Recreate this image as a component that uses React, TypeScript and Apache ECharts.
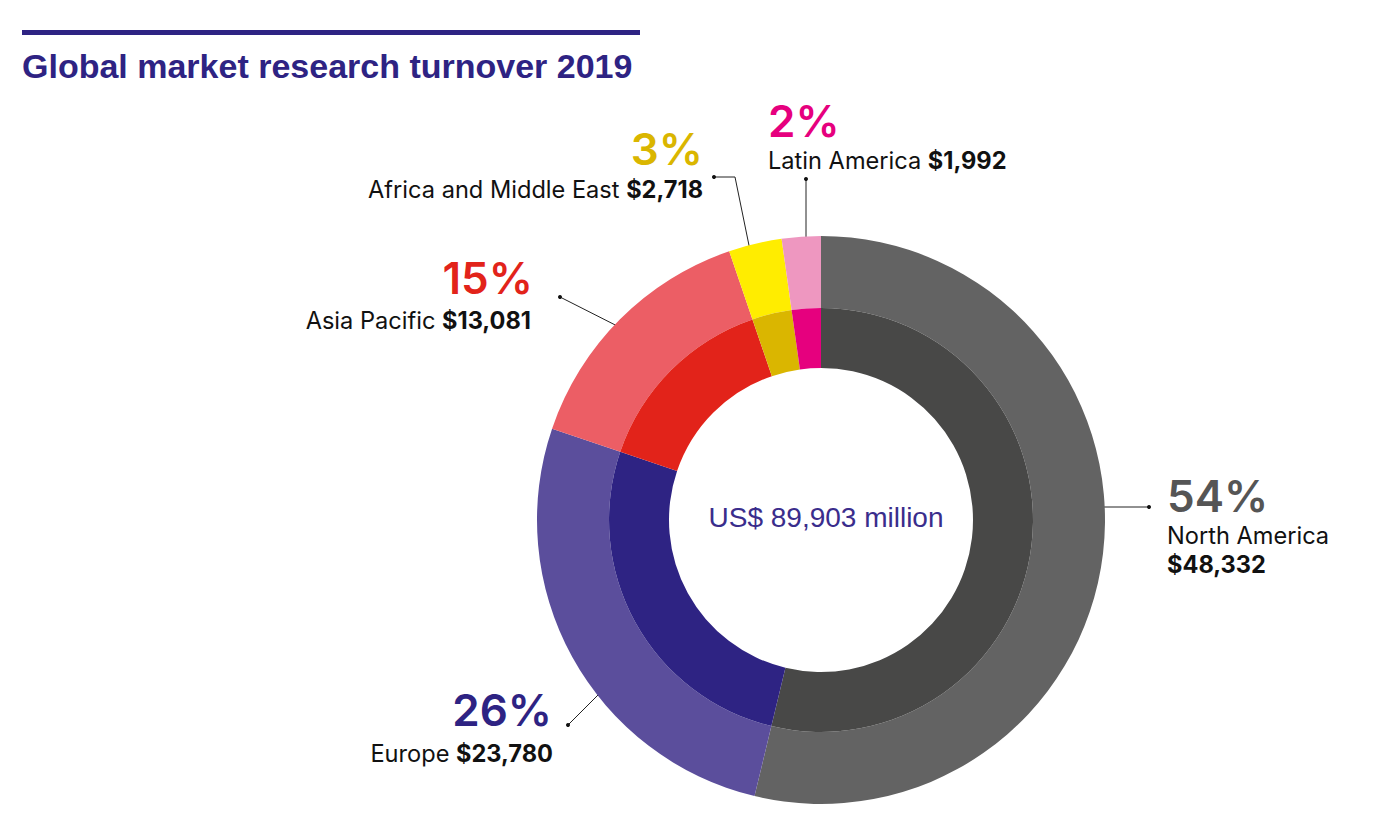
import React, { useEffect, useRef } from "react";
import * as echarts from "echarts";

const regions = ["North America", "Europe", "Asia Pacific", "Africa and Middle East", "Latin America"];
const turnover = [48332, 23780, 13081, 2718, 1992];
const outerColors = ["#636363", "#5b4e9c", "#ec5e65", "#ffed00", "#ee97c0"];
const innerColors = ["#484847", "#2e2383", "#e2231a", "#dab600", "#e6007e"];
const pctColors = ["#555555", "#2e2383", "#e2231a", "#dab600", "#e6007e"];
const titleText = "Global market research turnover 2019";

// annotation layout (positions only)
const layout = [
  { pct: [1167, 496], align: "left", name: [1167, 535], value: [1167, 564], stacked: true, line: [[1080, 507], [1149, 507]] },
  { pct: [552, 710], align: "right", name: [553, 753], stacked: false, line: [[612, 681], [568, 725]] },
  { pct: [533, 278], align: "right", name: [531, 320], stacked: false, line: [[635, 335], [560, 297]] },
  { pct: [703, 149], align: "right", name: [703, 189], stacked: false, line: [[752, 260], [735, 177], [714, 177]] },
  { pct: [768, 121], align: "left", name: [768, 160], stacked: false, line: [[806, 256], [806, 179]] },
];

const LABEL_FONT = "Inter, 'Liberation Sans', sans-serif";
const LABEL_SIZE = 23.6;

export default function App() {
  const ref = useRef<HTMLDivElement>(null);
  useEffect(() => {
    if (!ref.current) return;
    const chart = echarts.init(ref.current, null, { renderer: "svg" });
    const total = turnover.reduce((a, b) => a + b, 0);
    const fmt = (v: number) => v.toLocaleString("en-US");

    const graphics: any[] = [
      { type: "rect", shape: { x: 22, y: 30, width: 618, height: 5 }, style: { fill: "#2e2383" } },
      {
        type: "text", x: 22, y: 66,
        style: { text: titleText, fontFamily: "'Liberation Sans', Arial, sans-serif", fontWeight: "bold", fontSize: 34, fill: "#2e2383", align: "left", verticalAlign: "middle" },
      },
      {
        type: "text", x: 826, y: 517,
        style: { text: `US$ ${fmt(total)} million`, fontFamily: "'Liberation Sans', Arial, sans-serif", fontSize: 28, fill: "#3a2d8c", align: "center", verticalAlign: "middle" },
      },
    ];

    regions.forEach((name, i) => {
      const L = layout[i];
      const v = turnover[i];
      const pct = Math.round((v / total) * 100) + "%";
      graphics.push({
        type: "text", x: L.pct[0], y: L.pct[1],
        style: { text: pct, fontFamily: LABEL_FONT, fontWeight: 600, fontSize: 44, lineHeight: 34, fill: pctColors[i], align: L.align, verticalAlign: "middle" },
      });
      if (L.stacked) {
        graphics.push({
          type: "text", x: L.name[0], y: L.name[1],
          style: { text: name, fontFamily: LABEL_FONT, fontSize: LABEL_SIZE, lineHeight: 22, fill: "#111", align: L.align, verticalAlign: "middle" },
        });
        graphics.push({
          type: "text", x: (L as any).value[0], y: (L as any).value[1],
          style: { text: "$" + fmt(v), fontFamily: LABEL_FONT, fontWeight: "bold", fontSize: LABEL_SIZE, lineHeight: 22, fill: "#111", align: L.align, verticalAlign: "middle" },
        });
      } else {
        graphics.push({
          type: "text", x: L.name[0], y: L.name[1],
          style: {
            text: `${name} {b|$${fmt(v)}}`,
            rich: { b: { fontFamily: LABEL_FONT, fontWeight: "bold", fontSize: LABEL_SIZE, lineHeight: 22, fill: "#111" } },
            fontFamily: LABEL_FONT, fontSize: LABEL_SIZE, lineHeight: 22, fill: "#111", align: L.align, verticalAlign: "middle",
          },
        });
      }
      graphics.push({
        type: "polyline", shape: { points: L.line }, style: { stroke: "#222", lineWidth: 1, fill: null },
      });
      [L.line[0], L.line[L.line.length - 1]].forEach((p) => {
        graphics.push({ type: "circle", shape: { cx: p[0], cy: p[1], r: 2 }, style: { fill: "#111" } });
      });
    });

    const base = {
      type: "pie",
      center: [821, 520],
      startAngle: 90,
      clockwise: true,
      silent: true,
      label: { show: false },
      labelLine: { show: false },
      emphasis: { disabled: true },
    };

    chart.setOption({
      animation: false,
      backgroundColor: "#ffffff",
      series: [
        {
          ...base,
          name: "outer",
          radius: [212, 284],
          data: regions.map((n, i) => ({ name: n, value: turnover[i], itemStyle: { color: outerColors[i] } })),
        },
        {
          ...base,
          name: "inner",
          radius: [152, 212],
          data: regions.map((n, i) => ({ name: n, value: turnover[i], itemStyle: { color: innerColors[i] } })),
        },
      ],
      graphic: graphics,
    });
    return () => chart.dispose();
  }, []);
  return <div ref={ref} style={{ position: "fixed", left: 0, top: 0, width: 1384, height: 821, background: "#fff" }} />;
}
